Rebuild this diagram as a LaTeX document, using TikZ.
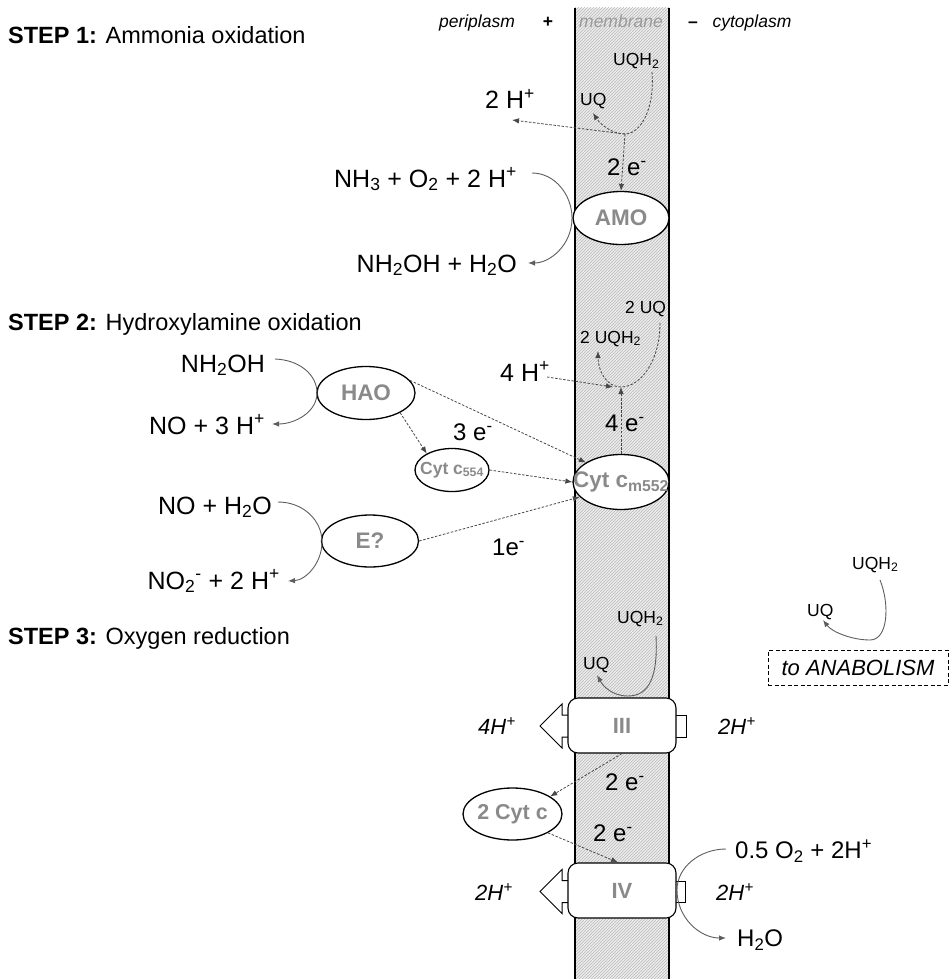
\documentclass[tikz,border=0pt]{standalone}
\usepackage{fontspec}
\setmainfont{Liberation Sans}
\usetikzlibrary{arrows.meta,shapes.geometric,patterns}
\definecolor{enz}{HTML}{8A8A8A}
\definecolor{memtxt}{HTML}{9A9A9A}
\definecolor{curv}{HTML}{5E5E5E}
\definecolor{dsh}{HTML}{474747}
\newcommand\sbt[1]{\textsubscript{#1}}
\newcommand\spt[1]{\textsuperscript{#1}}
\newcommand\zb[1]{\makebox[0pt]{#1}}
\begin{document}
\begin{tikzpicture}[x=1pt,y=-1pt,
  txs/.style={font=\fontsize{17.5}{21}\selectfont,inner sep=0pt},
  txm/.style={font=\fontsize{22}{26}\selectfont\itshape,inner sep=0pt},
  txl/.style={font=\fontsize{25}{30}\selectfont,inner sep=0pt},
  txe/.style={font=\fontsize{24}{28}\selectfont,inner sep=0pt},
  steplbl/.style={font=\fontsize{23.5}{28}\selectfont,inner sep=0pt,anchor=base west},
  enzyme/.style={ellipse,draw=black,line width=1.3pt,fill=white,inner sep=0pt,text=enz,font=\fontsize{22.5}{26}\selectfont\bfseries},
  complexbox/.style={draw=black,line width=1.1pt,fill=white,rounded corners=10pt,minimum width=108pt,minimum height=55pt,inner sep=0pt,text=enz,font=\fontsize{22}{26}\selectfont\bfseries},
  react/.style={draw=curv,line width=0.9pt,-{Latex[length=7pt,width=5.5pt]}},
  flow/.style={draw=dsh,line width=0.8pt,dash pattern=on 2.5pt off 1.6pt,-{Latex[length=7pt,width=5.5pt]}},
  flowplain/.style={draw=dsh,line width=0.8pt,dash pattern=on 2.5pt off 1.6pt},
  hollow/.style={draw=black,line width=1pt,fill=white}
]
\useasboundingbox (0,0) rectangle (951,979);
% membrane
\fill[gray!14] (575,8) rectangle (669,979);
\fill[pattern=north east lines,pattern color=gray!55] (575,8) rectangle (669,979);
\draw[line width=1.5pt] (575,8) -- (575,979) (669,8) -- (669,979);

% header
\node[txs,anchor=base] (peri) at (477,27.5) {\itshape periplasm};
\node[txs,anchor=base] (plus) at (548,27.5) {\bfseries +};
\node[txs,anchor=base,text=memtxt] (mem) at (621,27.5) {\itshape membrane};
\node[txs,anchor=base] (minus) at (693,27.5) {\bfseries –};
\node[txs,anchor=base] (cyto) at (752,27.5) {\itshape cytoplasm};

% step labels
\node[steplbl] (s1) at (8,43.4) {\textbf{STEP 1:} Ammonia oxidation};
\node[steplbl] (s2) at (8,330.4) {\textbf{STEP 2:} Hydroxylamine oxidation};
\node[steplbl] (s3) at (8,644) {\textbf{STEP 3:} Oxygen reduction};

% hollow arrows of complexes
\draw[hollow] (570,715) -- (562,715) -- (562,704) -- (540,726) -- (562,748) -- (562,737) -- (570,737);
\draw[hollow] (670,715) rectangle (686,737);
\draw[hollow] (570,880.5) -- (562,880.5) -- (562,869.5) -- (540,891.5) -- (562,913.5) -- (562,902.5) -- (570,902.5);
\draw[hollow] (670,881) rectangle (685,902);

% enzymes
\node[enzyme,minimum width=96pt,minimum height=53pt] (amo) at (621,218) {\zb{AMO}};
\node[enzyme,minimum width=98pt,minimum height=53pt] (hao) at (366,393) {\zb{HAO}};
\node[enzyme,minimum width=74pt,minimum height=43pt,font=\fontsize{17.5}{20}\selectfont\bfseries] (c554) at (452,470) {\zb{Cyt c\sbt{554}}};
\node[enzyme,minimum width=96pt,minimum height=55pt] (cm) at (621,482) {\zb{Cyt c\sbt{m552}}};
\node[enzyme,minimum width=97pt,minimum height=52pt] (eq) at (370,541) {\zb{E?}};
\node[enzyme,minimum width=99pt,minimum height=52pt,font=\fontsize{21.5}{25}\selectfont\bfseries] (cc) at (512.5,814) {\zb{2 Cyt c}};
\node[complexbox] (iii) at (622,725.5) {III};
\node[complexbox] (iv) at (622,890.5) {IV};

% STEP 1
\node[txs,anchor=base west] (uqhA) at (613,66) {UQH\sbt{2}};
\node[txs,anchor=base west] (uqA) at (580,106) {UQ};
\node[txl,anchor=base west] (hA) at (485,109) {2 H\spt{+}};
\coordinate (jA) at (625,134);
\draw[flowplain] ([xshift=39pt,yshift=-6pt]uqhA.base west) .. controls (655,110) and (640,134) .. (jA);
\draw[flow] (jA) .. controls (612,134) and (600,124) .. ([xshift=13pt,yshift=-7pt]uqA.base west);
\draw[flow] (jA) -- ([xshift=27pt,yshift=-11pt]hA.base west);
\draw[flow] (jA) -- (amo.north);
\node[txe,anchor=base west] (eA) at (607,175.6) {2 e\spt{-}};
\node[txl,anchor=base east] (nh3) at (517,187) {NH\sbt{3} + O\sbt{2} + 2 H\spt{+}};
\node[txl,anchor=base east] (nh2oh) at (517,272) {NH\sbt{2}OH + H\sbt{2}O};
\draw[react] ([xshift=15pt,yshift=14pt]nh3.base east) .. controls (555,173) and (572,195) .. (572,218) .. controls (572,245) and (550,263) .. ([xshift=11pt,yshift=9pt]nh2oh.base east);

% STEP 2
\node[txl,anchor=base east] (nh2ohB) at (265,372) {NH\sbt{2}OH};
\node[txl,anchor=base east] (no3h) at (265,434) {NO + 3 H\spt{+}};
\draw[react] ([xshift=10pt,yshift=13pt]nh2ohB.base east) .. controls (300,360) and (317,375) .. (317,393) .. controls (317,412) and (295,424) .. ([xshift=7pt,yshift=10pt]no3h.base east);
\node[txl,anchor=base east] (noh2o) at (272,514) {NO + H\sbt{2}O};
\node[txl,anchor=base east] (no2) at (280,589) {NO\sbt{2}\spt{-} + 2 H\spt{+}};
\draw[react] ([xshift=6pt,yshift=12pt]noh2o.base east) .. controls (303,502) and (322,520) .. (322,542) .. controls (322,563) and (306,580) .. ([xshift=8pt,yshift=8pt]no2.base east);

\node[txs,anchor=base west] (uqB) at (625,313) {2 UQ};
\node[txs,anchor=base west] (uqhB) at (580,343) {2 UQH\sbt{2}};
\coordinate (jB) at (621,387);
\draw[flow] ([xshift=35pt,yshift=-10pt]uqB.base west) .. controls (660,362) and (640,387) .. (jB) .. controls (606,387) and (598,370) .. ([xshift=18pt,yshift=-8pt]uqhB.base west);
\node[txl,anchor=base east] (hB) at (550,381) {4 H\spt{+}};
\draw[flow] ([xshift=-3pt,yshift=4pt]hB.base east) -- ([xshift=-8pt]jB);
\draw[flow] (cm.north) -- (jB);
\node[txe,anchor=base west] (eB) at (605,431.6) {4 e\spt{-}};
\node[txe,anchor=base west] (eC) at (453,440.6) {3 e\spt{-}};
\node[txe,anchor=base west] (eD) at (492,555.6) {1e\spt{-}};
\draw[flow] (hao.16) -- (cm.151);
\draw[flow] (hao.-30) -- (c554.147);
\draw[flow] (c554.east) -- (cm.west);
\draw[flow] (eq.east) -- (cm.200);

% STEP 3
\node[txs,anchor=base west] (uqhC) at (617,623) {UQH\sbt{2}};
\node[txs,anchor=base west] (uqC) at (583,669) {UQ};
\draw[react] ([xshift=39pt,yshift=-13pt]uqhC.base west) .. controls (658,675) and (650,696) .. (628,696) .. controls (612,696) and (603,686) .. ([xshift=14pt,yshift=-6pt]uqC.base west);

\node[txs,anchor=base west] (uqhD) at (852,569) {UQH\sbt{2}};
\node[txs,anchor=base west] (uqD) at (807,616) {UQ};
\draw[react] ([xshift=28pt,yshift=-11pt]uqhD.base west) .. controls (890,605) and (888,640) .. (870,640) .. controls (852,640) and (832,632) .. ([xshift=16pt,yshift=-4pt]uqD.base west);
\node[draw=black,line width=0.9pt,dash pattern=on 4pt off 2.5pt,minimum width=180pt,minimum height=35pt,inner sep=0pt,font=\fontsize{22}{26}\selectfont\itshape] (anab) at (858,667.5) {to ANABOLISM};

\node[txm,anchor=base west] (h4) at (478,734) {4H\spt{+}};
\node[txm,anchor=base west] (h2a) at (718,734) {2H\spt{+}};
\node[txm,anchor=base west] (h2b) at (475,900) {2H\spt{+}};
\node[txm,anchor=base west] (h2c) at (716,900) {2H\spt{+}};

\draw[flow] (iii.south) -- (cc.25);
\node[txe,anchor=base west] (eE) at (605,790.6) {2 e\spt{-}};
\node[txe,anchor=base west] (eF) at (593,841.6) {2 e\spt{-}};
\draw[flow] (cc.-28) -- ([xshift=-4pt]iv.north);

\node[txe,anchor=base west] (o2) at (735,858.6) {0.5 O\sbt{2} + 2H\spt{+}};
\node[txe,anchor=base west] (h2o) at (737,946.6) {H\sbt{2}O};
\draw[react] ([xshift=-9pt,yshift=9.6pt]o2.base west) .. controls (700,849) and (677,867) .. (677,890) .. controls (677,918) and (700,938) .. ([xshift=-11pt,yshift=8.6pt]h2o.base west);
\end{tikzpicture}
\end{document}
